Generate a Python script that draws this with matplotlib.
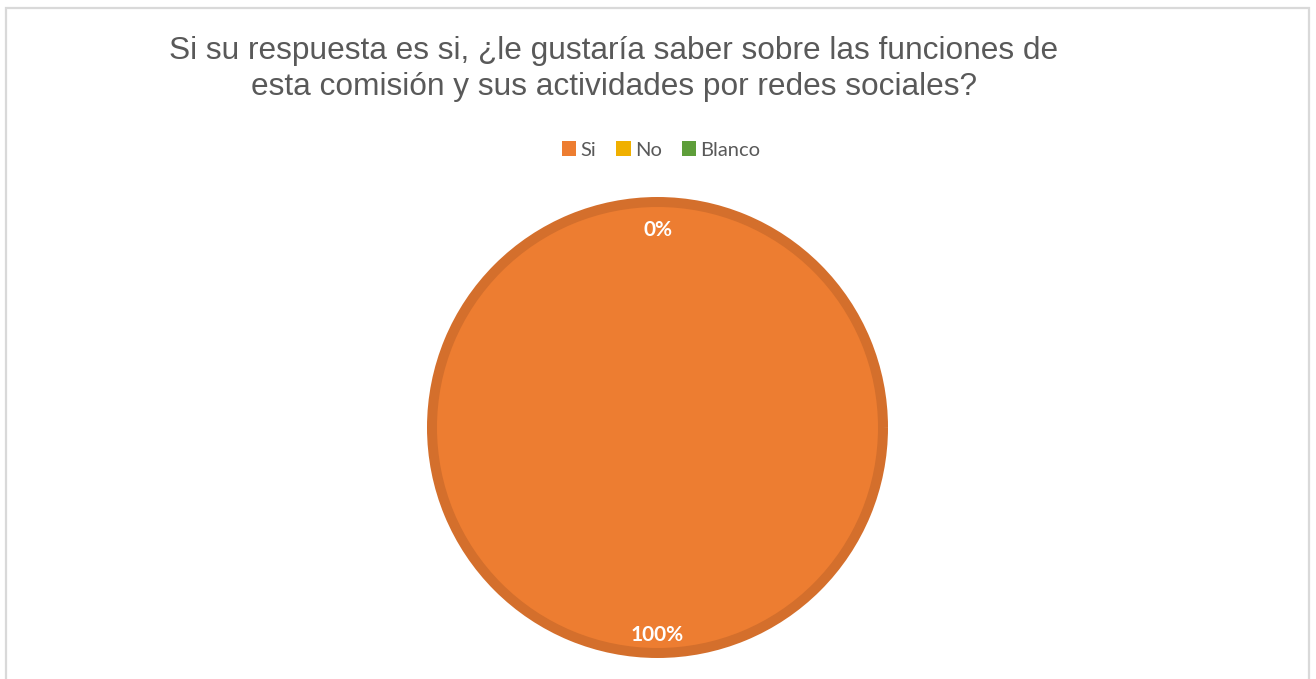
import matplotlib
matplotlib.use("Agg")
import matplotlib.pyplot as plt
import matplotlib.transforms as mtransforms
from matplotlib.patches import Rectangle, Patch

categories = ["Si", "No", "Blanco"]
values = [100, 0, 0]
colors = ["#ED7D31", "#F0B000", "#5E9E3A"]
edge_colors = ["#D46F2C", "#D49C00", "#548C34"]
title = "Si su respuesta es si, ¿le gustaría saber sobre las funciones de\nesta comisión y sus actividades por redes sociales?"

W, H = 1316, 679
fig = plt.figure(figsize=(W / 100, H / 100), dpi=100)
fig.patch.set_facecolor("white")

# outer frame
fig.add_artist(Rectangle((6 / W, -0.05), (1309 - 6) / W, 1.05 - 8 / H,
                         transform=fig.transFigure, fill=False,
                         edgecolor="#D9D9D9", linewidth=1.6))

fig.text(614 / W, 1 - 69 / H, title, ha="center", va="center",
         fontsize=22.8, color="#595959", family="Liberation Sans",
         linespacing=1.22)

# pie axes
cx, cy, R = 657.5, 427.5, 230.5
ax = fig.add_axes([(cx - R) / W, (H - cy - R) / H, 2 * R / W, 2 * R / H])
ax.set_xlim(-1, 1)
ax.set_ylim(-1, 1)
ax.axis("off")

lw_px = 10
wedges, texts, autotexts = ax.pie(
    values, colors=colors, startangle=90, counterclock=False,
    radius=1 - (lw_px / 2) / R, autopct=lambda p: f"{p:.0f}%",
    pctdistance=0.9, center=(0, 0), frame=False,
    wedgeprops=dict(linewidth=lw_px * 0.72, linestyle="solid"),
    textprops=dict(color="white", fontsize=15, fontweight="bold", family="Lato"))
for w, ec in zip(wedges, edge_colors):
    w.set_edgecolor(ec if w.theta2 - w.theta1 > 0 else "none")
ax.set_xlim(-1, 1)
ax.set_ylim(-1, 1)
offset = mtransforms.ScaledTranslation(0, -5 / 100, fig.dpi_scale_trans)
# only one label for the coinciding zero slices
seen = set()
for t in autotexts:
    t.set_transform(t.get_transform() + offset)
    key = (round(t.get_position()[0], 3), round(t.get_position()[1], 3))
    if key in seen:
        t.set_visible(False)
    seen.add(key)

handles = [Patch(facecolor=c, edgecolor="none") for c in colors]
fig.legend(handles, categories, loc="center", bbox_to_anchor=(661 / W, 1 - 150 / H),
           ncol=3, frameon=False, handlelength=0.72, handleheight=0.72,
           handletextpad=0.2, columnspacing=1.0,
           prop=dict(family="Lato", size=14.5), labelcolor="#595959")

fig.savefig("out.png", dpi=100)
